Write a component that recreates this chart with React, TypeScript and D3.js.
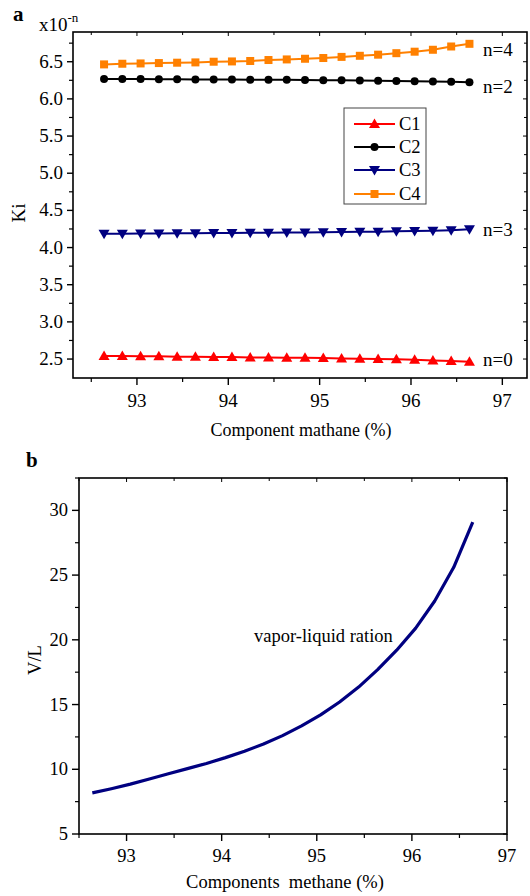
import React from "react";
import * as d3 from "d3";

// ---- Data ----
const methaneA: number[] = [
  92.64, 92.84, 93.04, 93.24, 93.44, 93.64, 93.84, 94.04, 94.24, 94.44, 94.64,
  94.84, 95.04, 95.24, 95.44, 95.64, 95.84, 96.04, 96.24, 96.44, 96.64,
];
const kiC1: number[] = [
  2.54, 2.54, 2.536, 2.536, 2.531, 2.531, 2.527, 2.527, 2.522, 2.522, 2.518,
  2.518, 2.513, 2.509, 2.504, 2.5, 2.496, 2.491, 2.482, 2.473, 2.464,
];
const kiC2: number[] = [
  6.268, 6.267, 6.266, 6.265, 6.264, 6.262, 6.261, 6.26, 6.259, 6.257, 6.256,
  6.254, 6.252, 6.25, 6.248, 6.245, 6.242, 6.239, 6.235, 6.23, 6.224,
];
const kiC3: number[] = [
  4.185, 4.187, 4.189, 4.19, 4.192, 4.193, 4.195, 4.197, 4.198, 4.2, 4.202,
  4.204, 4.206, 4.208, 4.211, 4.214, 4.218, 4.222, 4.227, 4.234, 4.245,
];
const kiC4: number[] = [
  6.464, 6.473, 6.477, 6.482, 6.487, 6.491, 6.5, 6.504, 6.51, 6.523, 6.531,
  6.54, 6.55, 6.565, 6.58, 6.595, 6.615, 6.635, 6.661, 6.705, 6.741,
];
const seriesNames: string[] = ["C1", "C2", "C3", "C4"];
const seriesLabels: string[] = ["n=0", "n=2", "n=3", "n=4"];

const methaneB: number[] = [
  92.64, 92.84, 93.04, 93.24, 93.44, 93.64, 93.84, 94.04, 94.24, 94.44, 94.64,
  94.84, 95.04, 95.24, 95.44, 95.64, 95.84, 96.04, 96.24, 96.44, 96.64,
];
const vlRatio: number[] = [
  8.18, 8.5, 8.85, 9.25, 9.65, 10.05, 10.45, 10.9, 11.4, 11.95, 12.6, 13.35,
  14.2, 15.2, 16.35, 17.7, 19.2, 20.9, 23.0, 25.6, 29.1,
];

const xTicks: number[] = [93, 94, 95, 96, 97];
const yTicksA: number[] = [2.5, 3.0, 3.5, 4.0, 4.5, 5.0, 5.5, 6.0, 6.5];
const yTicksB: number[] = [5, 10, 15, 20, 25, 30];

// ---- Styles ----
const FONT = "Liberation Serif, DejaVu Serif, Times New Roman, serif";
const colors = ["#ff0000", "#000000", "#000080", "#ff8000"];
const markers = ["triUp", "circle", "triDown", "square"];

function Marker({ type, x, y, color }: { type: string; x: number; y: number; color: string }) {
  if (type === "circle") return <circle cx={x} cy={y} r={4} fill={color} />;
  if (type === "square") return <rect x={x - 4} y={y - 4} width={8} height={8} fill={color} />;
  if (type === "triUp")
    return <path d={`M${x},${y - 5.5}L${x + 5.5},${y + 4}L${x - 5.5},${y + 4}Z`} fill={color} />;
  return <path d={`M${x},${y + 5.5}L${x + 5.5},${y - 4}L${x - 5.5},${y - 4}Z`} fill={color} />;
}

export default function App() {
  const xA = d3.scaleLinear().domain([92.3, 97.27]).range([73, 527]);
  const yA = d3.scaleLinear().domain([2.245, 6.9]).range([378, 32]);
  const xB = d3.scaleLinear().domain([92.5, 97]).range([79, 507]);
  const yB = d3.scaleLinear().domain([5, 32.5]).range([834, 478]);

  const seriesA = [kiC1, kiC2, kiC3, kiC4];
  const lineA = (vals: number[]) =>
    d3.line<number>().x((_, i) => xA(methaneA[i])).y((v) => yA(v))(vals) || "";
  const lineB =
    d3.line<number>().x((_, i) => xB(methaneB[i])).y((v) => yB(v))(vlRatio) || "";

  const [ax0, ax1] = xA.range();
  const [ay0, ay1] = yA.range();
  const [bx0, bx1] = xB.range();
  const [by0, by1] = yB.range();

  const minorXA = [92.5, 93.5, 94.5, 95.5, 96.5];
  const minorYA = [2.75, 3.25, 3.75, 4.25, 4.75, 5.25, 5.75, 6.25, 6.75];
  const minorXB = [92.5, 93.5, 94.5, 95.5, 96.5];
  const minorYB = [7.5, 12.5, 17.5, 22.5, 27.5, 32.5];

  const labelYs = [366, 93, 236, 56];

  return (
    <svg width={530} height={896} style={{ display: "block", position: "absolute", left: 0, top: 0, fontFamily: FONT }}>
      <rect x={0} y={0} width={530} height={896} fill="#fff" />
      {/* ---------- Panel a ---------- */}
      <text x={13} y={21} fontSize={21} fontWeight="bold">a</text>
      <text x={39} y={31} fontSize={19}>
        x10<tspan dy={-9} fontSize={13}>-n</tspan>
      </text>
      <rect x={ax0} y={ay1} width={ax1 - ax0} height={ay0 - ay1} fill="none" stroke="#000" strokeWidth={1.6} />
      {xTicks.map((t) => (
        <g key={"xa" + t}>
          <line x1={xA(t)} x2={xA(t)} y1={ay0} y2={ay0 + 7} stroke="#000" strokeWidth={1.4} />
          <line x1={xA(t)} x2={xA(t)} y1={ay1} y2={ay1 + 4} stroke="#000" strokeWidth={1} />
          <text x={xA(t)} y={407} fontSize={19} textAnchor="middle">{t}</text>
        </g>
      ))}
      {minorXA.map((t) => (
        <g key={"mxa" + t}>
          <line x1={xA(t)} x2={xA(t)} y1={ay0} y2={ay0 + 4} stroke="#000" strokeWidth={1.2} />
          <line x1={xA(t)} x2={xA(t)} y1={ay1} y2={ay1 + 3} stroke="#000" strokeWidth={1} />
        </g>
      ))}
      {yTicksA.map((t) => (
        <g key={"ya" + t}>
          <line x1={ax0 - 6} x2={ax0} y1={yA(t)} y2={yA(t)} stroke="#000" strokeWidth={1.4} />
          <line x1={ax1 - 4} x2={ax1} y1={yA(t)} y2={yA(t)} stroke="#000" strokeWidth={1} />
          <text x={63} y={yA(t) + 6} fontSize={19} textAnchor="end">{t.toFixed(1)}</text>
        </g>
      ))}
      {minorYA.map((t) => (
        <g key={"mya" + t}>
          <line x1={ax0 - 4} x2={ax0} y1={yA(t)} y2={yA(t)} stroke="#000" strokeWidth={1.2} />
          <line x1={ax1 - 3} x2={ax1} y1={yA(t)} y2={yA(t)} stroke="#000" strokeWidth={1} />
        </g>
      ))}
      <text x={301} y={436} fontSize={18} textAnchor="middle">Component mathane (%)</text>
      <text transform="translate(25,213) rotate(-90)" fontSize={19} textAnchor="middle">Ki</text>
      {seriesA.map((vals, si) => (
        <g key={"s" + si}>
          <path d={lineA(vals)} fill="none" stroke={colors[si]} strokeWidth={2} />
          {vals.map((v, i) => (
            <Marker key={i} type={markers[si]} x={xA(methaneA[i])} y={yA(v)} color={colors[si]} />
          ))}
          <text x={483} y={labelYs[si]} fontSize={19}>{seriesLabels[si]}</text>
        </g>
      ))}
      <rect x={344} y={108} width={82} height={96} fill="#fff" stroke="#444" strokeWidth={1} />
      {seriesNames.map((n, i) => {
        const ly = [124, 147, 170, 194][i];
        return (
          <g key={"lg" + n}>
            <line x1={354} x2={395} y1={ly} y2={ly} stroke={colors[i]} strokeWidth={2} />
            <Marker type={markers[i]} x={374.5} y={ly} color={colors[i]} />
            <text x={399} y={ly + 6} fontSize={18.5}>{n}</text>
          </g>
        );
      })}

      {/* ---------- Panel b ---------- */}
      <text x={26} y={467} fontSize={21} fontWeight="bold">b</text>
      <rect x={bx0} y={by1} width={bx1 - bx0} height={by0 - by1} fill="none" stroke="#000" strokeWidth={1.6} />
      {xTicks.map((t) => (
        <g key={"xb" + t}>
          <line x1={xB(t)} x2={xB(t)} y1={by0} y2={by0 + 7} stroke="#000" strokeWidth={1.4} />
          <line x1={xB(t)} x2={xB(t)} y1={by1} y2={by1 + 4} stroke="#000" strokeWidth={1} />
          <text x={xB(t)} y={862} fontSize={18.5} textAnchor="middle">{t}</text>
        </g>
      ))}
      {minorXB.map((t) => (
        <g key={"mxb" + t}>
          <line x1={xB(t)} x2={xB(t)} y1={by0} y2={by0 + 4} stroke="#000" strokeWidth={1.2} />
          <line x1={xB(t)} x2={xB(t)} y1={by1} y2={by1 + 3} stroke="#000" strokeWidth={1} />
        </g>
      ))}
      {yTicksB.map((t) => (
        <g key={"yb" + t}>
          <line x1={bx0 - 7} x2={bx0} y1={yB(t)} y2={yB(t)} stroke="#000" strokeWidth={1.4} />
          <line x1={bx1 - 4} x2={bx1} y1={yB(t)} y2={yB(t)} stroke="#000" strokeWidth={1} />
          <text x={68} y={yB(t) + 6} fontSize={18.5} textAnchor="end">{t}</text>
        </g>
      ))}
      {minorYB.map((t) => (
        <g key={"myb" + t}>
          <line x1={bx0 - 4} x2={bx0} y1={yB(t)} y2={yB(t)} stroke="#000" strokeWidth={1.2} />
          <line x1={bx1 - 3} x2={bx1} y1={yB(t)} y2={yB(t)} stroke="#000" strokeWidth={1} />
        </g>
      ))}
      <path d={lineB} fill="none" stroke="#000080" strokeWidth={3.2} strokeLinejoin="round" />
      <text x={254} y={642} fontSize={18.5}>vapor-liquid ration</text>
      <text x={285} y={888} fontSize={18.5} textAnchor="middle" style={{ whiteSpace: "pre" }}>
        Components  methane (%)
      </text>
      <text transform="translate(41,660) rotate(-90)" fontSize={18.5} textAnchor="middle">V/L</text>
    </svg>
  );
}
